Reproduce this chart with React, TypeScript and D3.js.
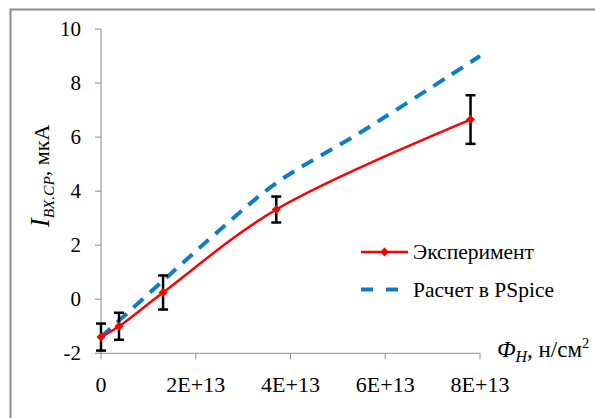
import React from "react";
import * as d3 from "d3";

const expX = [0, 0.38e13, 1.31e13, 3.7e13, 7.8e13];
const expY = [-1.4, -1.0, 0.25, 3.32, 6.65];
const expErr = [0.5, 0.5, 0.63, 0.48, 0.9];

const calcX = [0, 1.3e13, 2.5e13, 3.7e13, 5.5e13, 8.0e13];
const calcY = [-1.4, 0.67, 2.55, 4.3, 6.2, 9.0];

const xTicks = [0, 2e13, 4e13, 6e13, 8e13];
const xTickLabels = ["0", "2E+13", "4E+13", "6E+13", "8E+13"];
const yTicks = [-2, 0, 2, 4, 6, 8, 10];

const legendLabels = ["Эксперимент", "Расчет в PSpice"];

const FONT = '"Liberation Serif"';

export default function App() {
  const x = d3.scaleLinear().domain([0, 8e13]).range([101, 480]);
  const y = d3.scaleLinear().domain([-2, 10]).range([353.3, 29]);

  const line = d3
    .line<[number, number]>()
    .x((d) => x(d[0]))
    .y((d) => y(d[1]))
    .curve(d3.curveCatmullRom.alpha(0.5));

  const expPts: [number, number][] = expX.map((v, i) => [v, expY[i]]);
  const calcPts: [number, number][] = calcX.map((v, i) => [v, calcY[i]]);

  const diamond = (cx: number, cy: number, r: number) =>
    `M${cx},${cy - r}L${cx + r},${cy}L${cx},${cy + r}L${cx - r},${cy}Z`;

  const axisColor = "#8a8a8a";
  const ts = { fontFamily: FONT };

  return (
    <svg
      width={595}
      height={418}
      style={{ position: "absolute", left: 0, top: 0, background: "#fff" }}
    >
      <rect x={10.5} y={9.5} width={700} height={500} fill="#fff" stroke="#8c8c8c" strokeWidth={2} />

      {/* axes */}
      <line x1={x(0)} x2={x(0)} y1={y(10)} y2={y(-2)} stroke={axisColor} strokeWidth={1} />
      <line x1={x(0)} x2={x(8e13)} y1={y(-2)} y2={y(-2)} stroke={axisColor} strokeWidth={1} />
      {yTicks.map((t) => (
        <g key={"y" + t}>
          <line x1={x(0) - 6} x2={x(0)} y1={y(t)} y2={y(t)} stroke={axisColor} strokeWidth={1} />
          <text x={81} y={y(t) + 7} textAnchor="end" fontSize={21} fill="#000" style={ts}>
            {t}
          </text>
        </g>
      ))}
      {xTicks.map((t, i) => (
        <g key={"x" + t}>
          <line x1={x(t)} x2={x(t)} y1={y(-2)} y2={y(-2) + 6} stroke={axisColor} strokeWidth={1} />
          <text x={x(t)} y={392} textAnchor="middle" fontSize={22} fill="#000" style={ts}>
            {xTickLabels[i]}
          </text>
        </g>
      ))}

      {/* calc dashed line */}
      <path d={line(calcPts) || ""} fill="none" stroke="#0B7DC9" strokeWidth={4} strokeDasharray="13 9" />

      {/* error bars */}
      {expPts.map((p, i) => {
        const cx = x(p[0]);
        const yt = y(p[1] + expErr[i]);
        const yb = y(p[1] - expErr[i]);
        return (
          <g key={"e" + i} stroke="#000" strokeWidth={2.5}>
            <line x1={cx} x2={cx} y1={yt} y2={yb} />
            <line x1={cx - 5} x2={cx + 5} y1={yt} y2={yt} />
            <line x1={cx - 5} x2={cx + 5} y1={yb} y2={yb} />
          </g>
        );
      })}

      {/* experiment line */}
      <path d={line(expPts) || ""} fill="none" stroke="#FF0000" strokeWidth={2.5} />
      {expPts.map((p, i) => (
        <path key={"m" + i} d={diamond(x(p[0]), y(p[1]), 4.5)} fill="#FF0000" />
      ))}

      {/* legend */}
      <line x1={361} x2={408} y1={252} y2={252} stroke="#FF0000" strokeWidth={2.5} />
      <path d={diamond(384.5, 252, 4.5)} fill="#FF0000" />
      <text x={413} y={258.5} fontSize={21.5} fill="#000" style={ts}>
        {legendLabels[0]}
      </text>
      <line x1={361} x2={408} y1={289.5} y2={289.5} stroke="#0B7DC9" strokeWidth={4} strokeDasharray="12 13" />
      <text x={413} y={296.5} fontSize={21.5} fill="#000" style={ts}>
        {legendLabels[1]}
      </text>

      {/* axis titles */}
      <text transform="translate(49,176) rotate(-90)" textAnchor="middle" fontSize={22} fill="#000" style={ts}>
        <tspan fontStyle="italic" fontSize={27}>I</tspan>
        <tspan fontStyle="italic" fontSize={15.5} dy={5}>ВХ.СР</tspan>
        <tspan dy={-5}>, мкА</tspan>
      </text>
      <text x={497} y={357} fontSize={23} fill="#000" style={ts}>
        <tspan fontStyle="italic">Ф</tspan>
        <tspan fontStyle="italic" fontSize={16} dy={5}>Н</tspan>
        <tspan dy={-5}>, н/см</tspan>
        <tspan fontSize={14.5} dy={-9}>2</tspan>
      </text>
    </svg>
  );
}
